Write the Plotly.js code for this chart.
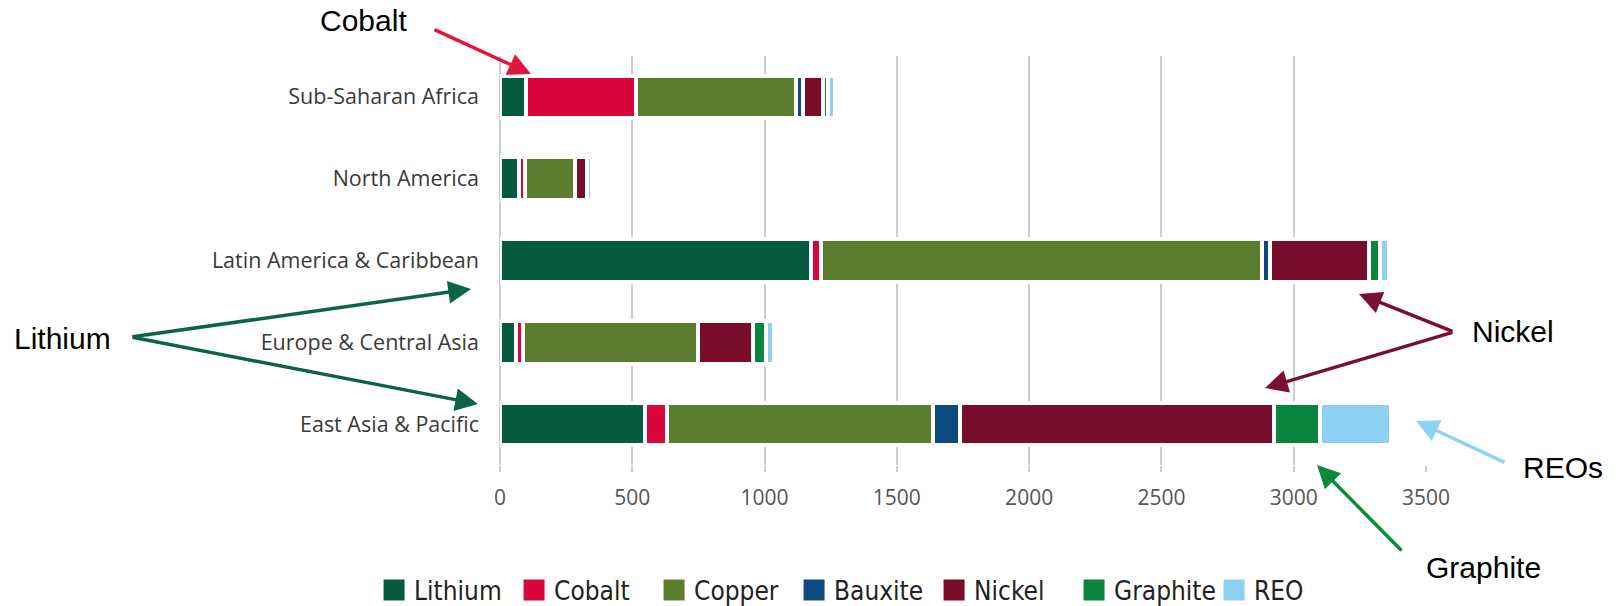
<!DOCTYPE html>
<html><head><meta charset="utf-8">
<script src="https://cdn.plot.ly/plotly-3.0.1.min.js"></script>
<style>html,body{margin:0;padding:0;background:#fff}#chart{width:1623px;height:606px}</style>
</head><body><div id="chart"></div>
<script>
const categories = ['Sub-Saharan Africa', 'North America', 'Latin America & Caribbean', 'Europe & Central Asia', 'East Asia & Pacific'];
const minerals = ['Lithium', 'Cobalt', 'Copper', 'Bauxite', 'Nickel', 'Graphite', 'REO'];
const lithium  = [98, 70, 1177, 59, 547];
const cobalt   = [416, 26, 38, 28, 84];
const copper   = [605, 189, 1667, 660, 1005];
const bauxite  = [28, 0, 28, 0, 102];
const nickel   = [72, 43, 376, 210, 1189];
const graphite = [20, 0, 40, 49, 172];
const reo      = [28, 19, 34, 30, 268];
const xTicks = [0, 500, 1000, 1500, 2000, 2500, 3000, 3500];

const colors = ['#035a3e', '#d8063c', '#5b7e2e', '#0c4a80', '#770d2b', '#0b843f', '#8dcff0'];
const series = [lithium, cobalt, copper, bauxite, nickel, graphite, reo];

const traces = [];
series.forEach((vals, i) => {
  traces.push({
    type: 'bar', orientation: 'h', name: minerals[i],
    y: categories, x: vals, width: 0.52,
    marker: {color: colors[i], line: {color: '#ffffff', width: 4}},
    showlegend: false, hoverinfo: 'x+name'
  });
});
// legend entries
series.forEach((vals, i) => {
  traces.push({
    type: 'scatter', mode: 'markers', name: minerals[i],
    x: [null], y: [null],
    marker: {symbol: 'square', size: 16, color: colors[i], line: {color: colors[i], width: 5}},
    showlegend: true, hoverinfo: 'skip'
  });
});

const annFont = {family: 'Liberation Sans, Arial, sans-serif', size: 30, color: '#000'};
function txt(t, x, y) {
  return {text: t, x: x, y: y, xref: 'paper', yref: 'paper', showarrow: false, font: annFont, xanchor: 'center', yanchor: 'middle'};
}
function arr(x, y, ax, ay, c) {
  return {text: '', x: x, y: y, xref: 'paper', yref: 'paper', ax: ax, ay: ay, showarrow: true,
          arrowhead: 2, arrowsize: 1.3, arrowwidth: 3.5, arrowcolor: c, standoff: 0, startstandoff: 0};
}
const annotations = [
  txt('Cobalt', -0.1469, 1.0856),
  txt('Lithium', -0.473, 0.3105),
  txt('Nickel', 1.094, 0.3276),
  txt('REOs', 1.148, -0.0049),
  txt('Graphite', 1.0616, -0.2494),
  arr(0.0335, 0.956, -98, -45, '#e0163f'),
  arr(-0.0313, 0.4303, -340, 48, '#0c6446'),
  arr(-0.0238, 0.1491, -347, -67, '#0c6446'),
  arr(0.9276, 0.4181, 95, 38, '#7a0f30'),
  arr(0.8261, 0.1883, 189, -56, '#7a0f30'),
  arr(0.9892, 0.1076, 90, 42, '#8dd3f3'),
  arr(0.8823, 0.0, 86, 87, '#0b8a3e')
];

const layout = {
  width: 1623, height: 606,
  margin: {l: 500, r: 197, t: 56, b: 141, autoexpand: false},
  paper_bgcolor: '#ffffff', plot_bgcolor: '#ffffff',
  barmode: 'stack', bargap: 0.48,
  showlegend: true,
  xaxis: {
    range: [0, 3500], tickvals: xTicks, ticktext: xTicks.map(String),
    showgrid: true, gridcolor: '#cdcdcd', gridwidth: 2,
    zeroline: true, zerolinecolor: '#cdcdcd', zerolinewidth: 2, showline: false,
    ticks: 'outside', ticklen: 6, tickwidth: 2, tickcolor: '#cdcdcd',
    ticklabelstandoff: 8, automargin: false,
    tickfont: {family: 'Open Sans, sans-serif', size: 21, color: '#555555'}
  },
  yaxis: {
    type: 'category', categoryorder: 'array', categoryarray: categories,
    autorange: 'reversed', range: [4.5, -0.5],
    showgrid: false, zeroline: false, showline: false, ticks: '',
    ticklabelstandoff: 20, automargin: false,
    tickfont: {family: 'Open Sans, sans-serif', size: 21.5, color: '#3a3a3a'}
  },
  legend: {
    orientation: 'h', traceorder: 'normal', x: -0.136, xanchor: 'left', y: -0.306, yanchor: 'middle',
    entrywidth: 95, entrywidthmode: 'pixels',
    font: {family: 'DejaVu Sans Condensed, Liberation Sans Narrow, Open Sans, sans-serif', size: 26, color: '#222222'},
    itemclick: false, itemdoubleclick: false
  },
  annotations: annotations
};

Plotly.newPlot('chart', traces, layout, {displayModeBar: false, staticPlot: true});
</script>
</body></html>
